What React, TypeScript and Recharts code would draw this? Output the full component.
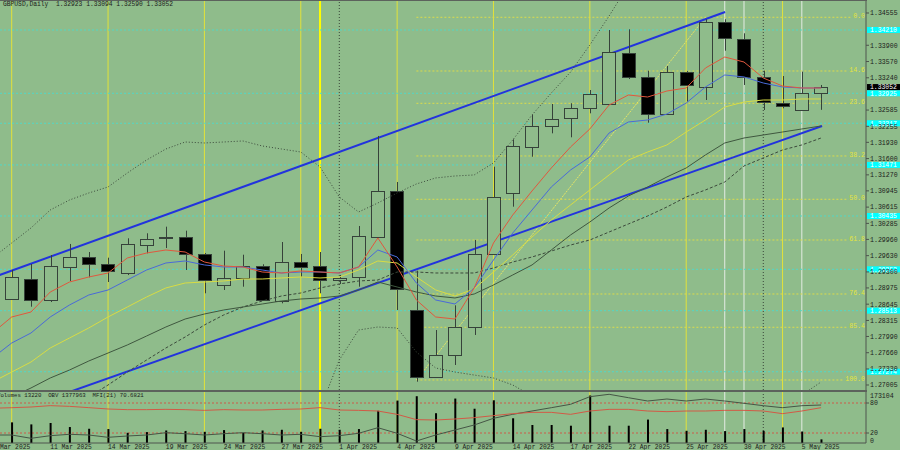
import React from 'react';
import { ComposedChart, Bar, Line, XAxis, YAxis, ReferenceLine } from 'recharts';

const MONO = '"Liberation Mono", "DejaVu Sans Mono", monospace';
const BG = '#8fbc8b';
const TEXT = '#1c1c1c';
const AXIS_C = '#4e544e';
const CANDLE_C = '#36423a';
const AXIS_W = 34;
const X_DOMAIN: [number, number] = [-0.607, 44.33];
const P_DOMAIN: [number, number] = [1.2690328, 1.3481885];

// ---------- data (index k -> bar i = k - 1) ----------
const dates = ['6 Mar 2025', '7 Mar 2025', '10 Mar 2025', '11 Mar 2025', '12 Mar 2025', '13 Mar 2025', '14 Mar 2025', '17 Mar 2025', '18 Mar 2025', '19 Mar 2025', '20 Mar 2025', '21 Mar 2025', '24 Mar 2025', '25 Mar 2025', '26 Mar 2025', '27 Mar 2025', '28 Mar 2025', '31 Mar 2025', '1 Apr 2025', '2 Apr 2025', '3 Apr 2025', '4 Apr 2025', '7 Apr 2025', '8 Apr 2025', '9 Apr 2025', '10 Apr 2025', '11 Apr 2025', '14 Apr 2025', '15 Apr 2025', '16 Apr 2025', '17 Apr 2025', '18 Apr 2025', '21 Apr 2025', '22 Apr 2025', '23 Apr 2025', '24 Apr 2025', '25 Apr 2025', '28 Apr 2025', '29 Apr 2025', '30 Apr 2025', '1 May 2025', '2 May 2025', '5 May 2025', '6 May 2025'];

const opens = [null, 1.28756, 1.29162, 1.28730, 1.29406, 1.29597, 1.29455, 1.29284, 1.29852, 1.29994, 1.30003, 1.29664, 1.29028, 1.29177, 1.29420, 1.28716, 1.29495, 1.29426, 1.29136, 1.29191, 1.30015, 1.30942, 1.28527, 1.27161, 1.27608, 1.28188, 1.29664, 1.30896, 1.31841, 1.32262, 1.32418, 1.32621, 1.32702, 1.33737, 1.33262, 1.32499, 1.33364, 1.33059, 1.34378, 1.34021, 1.33262, 1.32734, 1.32586, 1.32923];
const highs = [null, 1.29339, 1.29461, 1.29643, 1.29867, 1.29704, 1.29589, 1.29982, 1.30084, 1.30218, 1.30137, 1.29684, 1.29731, 1.29649, 1.29455, 1.29907, 1.29664, 1.29704, 1.29237, 1.30232, 1.32059, 1.31125, 1.29325, 1.28121, 1.28622, 1.29948, 1.31436, 1.31992, 1.32491, 1.32708, 1.32722, 1.32992, 1.34210, 1.34224, 1.33384, 1.33479, 1.33378, 1.34427, 1.34427, 1.34143, 1.33384, 1.33276, 1.33364, 1.33094];
const lows = [null, 1.28730, 1.28594, 1.28689, 1.29116, 1.29191, 1.29095, 1.29237, 1.29678, 1.29785, 1.29339, 1.28866, 1.28933, 1.29000, 1.28720, 1.28663, 1.29203, 1.28866, 1.29055, 1.29000, 1.29999, 1.28527, 1.27072, 1.27147, 1.27411, 1.28020, 1.29643, 1.30624, 1.31638, 1.32113, 1.32032, 1.32519, 1.32698, 1.33215, 1.32329, 1.32485, 1.32755, 1.32789, 1.33790, 1.33094, 1.32586, 1.32621, 1.32576, 1.32590];
const closes = [null, 1.29203, 1.28730, 1.29420, 1.29597, 1.29461, 1.29325, 1.29867, 1.29974, 1.30015, 1.29664, 1.29136, 1.29177, 1.29420, 1.28730, 1.29495, 1.29406, 1.29136, 1.29177, 1.30029, 1.30948, 1.28947, 1.27173, 1.27608, 1.28176, 1.29664, 1.30827, 1.31856, 1.32262, 1.32404, 1.32621, 1.32905, 1.33757, 1.33262, 1.32499, 1.33364, 1.33094, 1.34378, 1.34042, 1.33262, 1.32755, 1.32667, 1.32925, 1.33052];

const maRed = [1.28060, 1.28385, 1.28486, 1.28892, 1.29095, 1.29197, 1.29278, 1.29583, 1.29684, 1.29745, 1.29704, 1.29501, 1.29420, 1.29400, 1.29298, 1.29278, 1.29319, 1.29298, 1.29278, 1.29400, 1.29989, 1.29400, 1.28730, 1.28385, 1.28344, 1.28974, 1.29887, 1.30456, 1.30943, 1.31410, 1.31836, 1.32201, 1.32688, 1.32891, 1.32850, 1.32972, 1.33033, 1.33439, 1.33662, 1.33560, 1.33236, 1.33073, 1.33033, 1.33033];
const maBlue = [1.27553, 1.27857, 1.28060, 1.28385, 1.28629, 1.28832, 1.28933, 1.29136, 1.29339, 1.29481, 1.29522, 1.29441, 1.29400, 1.29400, 1.29339, 1.29278, 1.29298, 1.29298, 1.29278, 1.29400, 1.29745, 1.29603, 1.29075, 1.28730, 1.28649, 1.28974, 1.29542, 1.30090, 1.30557, 1.31024, 1.31369, 1.31633, 1.32120, 1.32343, 1.32384, 1.32505, 1.32728, 1.33053, 1.33297, 1.33257, 1.33134, 1.33053, 1.33033, 1.33033];
const maYellow = [1.27065, 1.27268, 1.27471, 1.27756, 1.27959, 1.28162, 1.28385, 1.28588, 1.28791, 1.28974, 1.29075, 1.29095, 1.29116, 1.29156, 1.29156, 1.29177, 1.29197, 1.29177, 1.29197, 1.29339, 1.29522, 1.29481, 1.29197, 1.28933, 1.28811, 1.28954, 1.29298, 1.29644, 1.30009, 1.30354, 1.30659, 1.30963, 1.31268, 1.31572, 1.31734, 1.31877, 1.32140, 1.32384, 1.32647, 1.32748, 1.32789, 1.32789, 1.32810, 1.32810];
const maGreen = [1.26598, 1.26761, 1.26944, 1.27147, 1.27309, 1.27492, 1.27654, 1.27817, 1.27999, 1.28182, 1.28344, 1.28446, 1.28527, 1.28588, 1.28649, 1.28710, 1.28750, 1.28771, 1.28811, 1.28933, 1.29095, 1.28994, 1.28892, 1.28811, 1.28771, 1.28852, 1.29035, 1.29238, 1.29441, 1.29745, 1.30050, 1.30313, 1.30598, 1.30841, 1.31024, 1.31227, 1.31410, 1.31674, 1.31917, 1.32018, 1.32079, 1.32140, 1.32201, 1.32262];
const bbMid = [1.25523, 1.25766, 1.26010, 1.26253, 1.26497, 1.26761, 1.27005, 1.27268, 1.27512, 1.27756, 1.27979, 1.28223, 1.28426, 1.28588, 1.28710, 1.28811, 1.28872, 1.28974, 1.29055, 1.29116, 1.29136, 1.29298, 1.29298, 1.29278, 1.29278, 1.29278, 1.29380, 1.29501, 1.29603, 1.29724, 1.29846, 1.29948, 1.30110, 1.30273, 1.30435, 1.30618, 1.30821, 1.30963, 1.31125, 1.31450, 1.31613, 1.31775, 1.31877, 1.32018];
const bbUp = [1.29583, 1.29887, 1.30192, 1.30557, 1.30760, 1.30902, 1.31024, 1.31308, 1.31572, 1.31795, 1.31937, 1.31917, 1.31937, 1.31958, 1.31856, 1.31795, 1.31734, 1.31430, 1.30821, 1.30516, 1.30699, 1.30902, 1.31085, 1.31207, 1.31247, 1.31268, 1.31511, 1.31978, 1.32485, 1.32931, 1.33357, 1.33906, 1.34494, 1.35123, null, null, null, null, null, null, null, null, null, null];
const bbLow = [null, null, null, null, null, null, null, null, null, null, null, null, null, null, null, null, 1.26010, 1.26517, 1.27512, 1.28121, 1.28182, 1.28162, 1.27674, 1.27350, 1.27268, 1.27207, 1.27147, 1.27005, 1.26781, 1.26578, 1.26335, 1.25990, 1.25685, 1.25584, 1.25685, 1.25888, 1.26091, 1.26294, 1.26456, 1.26598, 1.26700, 1.26741, 1.26802, 1.27066];

const volumes = [null, 75200, 67800, 73000, 58200, 51900, 50800, 37100, 39700, 45600, 43400, 40800, 47100, 37100, 45600, 48200, 40800, 51900, 48200, 50800, 117500, 154600, 170500, 108600, 162000, 124900, 155700, 90100, 65600, 65600, 63000, 173104, 63000, 63000, 85300, 50800, 44500, 48200, 43400, 50800, 44500, 56700, 41900, 13220];
const obv = [838000, 838000, 778600, 825400, 850600, 838000, 796600, 820000, 838000, 879400, 861400, 838000, 861400, 879400, 861400, 838000, 850600, 807400, 825400, 868600, 969400, 868600, 730000, 838000, 928000, 1018000, 1138600, 1210600, 1270000, 1329400, 1390600, 1527400, 1570600, 1509400, 1450000, 1486000, 1450000, 1486000, 1450000, 1408600, 1365400, 1329400, 1365400, 1377963];
const mfi = [69.5, 70.6, 72.0, 74.7, 73.3, 70.7, 68.0, 66.7, 66.7, 67.3, 66.7, 65.3, 66.7, 66.0, 66.0, 67.3, 68.0, 70.7, 66.0, 65.3, 64.0, 57.3, 46.7, 46.0, 48.0, 50.7, 54.7, 58.7, 61.3, 61.3, 57.3, 64.0, 67.3, 67.3, 64.0, 62.7, 64.0, 64.0, 65.3, 65.3, 64.0, 58.7, 64.0, 70.6821];

// visible price-axis labels (those hidden under the coloured tags are left out)
const priceTicks = [1.34555, 1.339, 1.3357, 1.3324, 1.32585, 1.32255, 1.3193, 1.316, 1.3127, 1.30945, 1.30615, 1.30285, 1.2996, 1.2963, 1.293, 1.28975, 1.28645, 1.28315, 1.2799, 1.2766, 1.2733, 1.27005];
const dateTickBars = [-1, 2, 5, 8, 11, 14, 17, 20, 23, 26, 29, 32, 35, 38, 41];

const weekLines = [0, 5, 10, 15, 20, 25, 30, 35, 40];
const monthEndLines = [16];
const monthStartLines = [17, 39];
const whiteLines = [37, 38, 41];

const hLevels = [1.3421, 1.32925, 1.32317, 1.31471, 1.30435, 1.29353, 1.28513, 1.27274];
const bidPrice = 1.33052;

const fibLabels = ['0.0', '14.6', '23.6', '38.2', '50.0', '61.8', '76.4', '85.4', '100.0'];
const fibPrices = [1.34468, 1.33378, 1.32722, 1.31653, 1.30774, 1.29948, 1.28852, 1.28176, 1.27106];
const fibStartBar = 21;
const fibDiagonal = [{ x: 21, y: 1.27106 }, { x: 36, y: 1.34468 }];

const trendUpper = [{ x: -1, y: 1.29183 }, { x: 37.02, y: 1.34575 }];
const trendLower = [{ x: 0, y: 1.26449 }, { x: 42.05, y: 1.32262 }];

const rows = dates.map((d, k) => ({
  i: k - 1,
  date: d,
  o: opens[k],
  h: highs[k],
  l: lows[k],
  c: closes[k],
  hl: highs[k] == null ? null : [lows[k], highs[k]],
  red: maRed[k],
  blue: maBlue[k],
  yellow: maYellow[k],
  green: maGreen[k],
  mid: bbMid[k],
  up: bbUp[k],
  low: bbLow[k],
  vol: volumes[k],
  obv: obv[k],
  mfi: mfi[k],
}));

// ---------- shapes ----------
const Candle = (props: any) => {
  const { x, y, width, height, payload } = props;
  if (!payload || payload.o == null || x == null) return null;
  const { o, h, l, c } = payload;
  const top = Math.min(y, y + height);
  const hh = Math.abs(height);
  const range = h - l || 1e-9;
  const py = (v: number) => top + ((h - v) / range) * hh;
  const cx = Math.round(x + width / 2) + 0.5;
  const bTop = Math.round(py(Math.max(o, c))) + 0.5;
  const bBot = Math.round(py(Math.min(o, c))) + 0.5;
  const bull = c >= o;
  const left = Math.round(x) + 0.5;
  const w = Math.round(width) - 1;
  return (
    <g>
      <line x1={cx} x2={cx} y1={top} y2={top + hh} stroke={CANDLE_C} strokeWidth={1} />
      <rect x={left} y={bTop} width={w} height={Math.max(bBot - bTop, 1)} fill={bull ? BG : '#000'} stroke={CANDLE_C} strokeWidth={1} />
    </g>
  );
};

const AxisTag = (props: any) => {
  const { viewBox, text, fill, color } = props;
  if (!viewBox) return null;
  const left = viewBox.x + viewBox.width + 1;
  return (
    <g>
      <rect x={left} y={viewBox.y - 3} width={AXIS_W} height={6} fill={fill} />
      <text x={left + 3} y={viewBox.y + 2.4} fontSize={6.4} fill={color} fontFamily={MONO}>{text}</text>
    </g>
  );
};

const FibTag = (props: any) => {
  const { viewBox, text } = props;
  if (!viewBox) return null;
  const right = viewBox.x + viewBox.width - 1;
  const y = viewBox.y;
  const w = text.length * 4 + 2;
  return (
    <g>
      <rect x={right - w} y={y - 2} width={w + 1} height={3} fill={BG} />
      <text x={right} y={y + 1} textAnchor="end" fontSize={6.6} fill="#e4e43c" fontFamily={MONO}>{text}</text>
    </g>
  );
};

const SideText = (props: any) => {
  const { viewBox, text, dy } = props;
  if (!viewBox) return null;
  const left = viewBox.x + viewBox.width + 4;
  return <text x={left} y={viewBox.y + 2.4 + (dy || 0)} fontSize={6.6} fill={TEXT} fontFamily={MONO}>{text}</text>;
};

const DateTick = (props: any) => {
  const { x, y, payload } = props;
  const k = payload.value + 1;
  return <text x={x} y={y + 6.3} fontSize={6.3} fill={TEXT} fontFamily={MONO}>{dates[k]}</text>;
};

const verticalRefs = (prefix: string) => [
  ...weekLines.map((i) => <ReferenceLine key={prefix + 'w' + i} x={i} stroke="#e2e23a" strokeWidth={1} ifOverflow="hidden" zIndex={-60} />),
  ...monthEndLines.map((i) => <ReferenceLine key={prefix + 'm' + i} x={i} stroke="#ffff00" strokeWidth={2} ifOverflow="hidden" zIndex={-60} />),
  ...monthStartLines.map((i) => <ReferenceLine key={prefix + 's' + i} x={i} stroke="#3a463a" strokeWidth={1} strokeDasharray="1 2" ifOverflow="hidden" zIndex={-60} />),
  ...whiteLines.map((i) => <ReferenceLine key={prefix + 'h' + i} x={i} stroke="#e4ece4" strokeWidth={1} ifOverflow="hidden" zIndex={-60} />),
];

function MainChart() {
  return (
    <ComposedChart width={900} height={390} data={rows} margin={{ top: 0, right: 0, bottom: 0, left: 0 }}>
      <XAxis dataKey="i" type="number" domain={X_DOMAIN} allowDataOverflow hide />
      <YAxis
        orientation="right"
        width={AXIS_W}
        domain={P_DOMAIN}
        allowDataOverflow
        ticks={priceTicks}
        interval={0}
        tickSize={3}
        tickMargin={1}
        tickFormatter={(v: number) => v.toFixed(5)}
        tick={{ fill: TEXT, fontSize: 6.6, fontFamily: MONO }}
        axisLine={{ stroke: AXIS_C }}
        tickLine={{ stroke: AXIS_C }}
      />
      {verticalRefs('m')}
      {hLevels.map((p) => (
        <ReferenceLine key={'c' + p} y={p} stroke="#52d8c6" strokeDasharray="2 2" strokeWidth={1} zIndex={-55}
          label={<AxisTag text={p.toFixed(5)} fill="#00ffff" color="#ffffff" />} />
      ))}
      {fibPrices.map((p, n) => (
        <ReferenceLine key={'f' + n} segment={[{ x: fibStartBar, y: p }, { x: X_DOMAIN[1], y: p }]} stroke="#dcdc4a" strokeDasharray="2 2" strokeWidth={1} ifOverflow="visible" zIndex={-55}
          label={<FibTag text={fibLabels[n]} />} />
      ))}
      <ReferenceLine segment={fibDiagonal} stroke="#e6e664" strokeDasharray="2 1" strokeWidth={1} ifOverflow="hidden" zIndex={-55} />
      <ReferenceLine segment={trendUpper} stroke="#2233dd" strokeWidth={2} ifOverflow="hidden" zIndex={-50} />
      <ReferenceLine segment={trendLower} stroke="#2233dd" strokeWidth={2} ifOverflow="hidden" zIndex={-50} />
      <Bar dataKey="hl" barSize={14} shape={Candle} isAnimationActive={false} />
      <Line dataKey="up" stroke="#3c4a3c" strokeWidth={1} strokeDasharray="1 2" dot={false} activeDot={false} isAnimationActive={false} />
      <Line dataKey="low" stroke="#3c4a3c" strokeWidth={1} strokeDasharray="1 2" dot={false} activeDot={false} isAnimationActive={false} />
      <Line dataKey="mid" stroke="#3c4a3c" strokeWidth={1} strokeDasharray="3 2" dot={false} activeDot={false} isAnimationActive={false} />
      <Line dataKey="green" stroke="#3f573f" strokeWidth={1} dot={false} activeDot={false} isAnimationActive={false} />
      <Line dataKey="yellow" stroke="#d8dc44" strokeWidth={1} dot={false} activeDot={false} isAnimationActive={false} />
      <Line dataKey="blue" stroke="#4a6ad8" strokeWidth={1} dot={false} activeDot={false} isAnimationActive={false} />
      <Line dataKey="red" stroke="#e0583e" strokeWidth={1} dot={false} activeDot={false} isAnimationActive={false} />
      <ReferenceLine y={bidPrice} strokeOpacity={0} label={<AxisTag text={bidPrice.toFixed(5)} fill="#000000" color="#ffffff" />} />
    </ComposedChart>
  );
}

function IndicatorChart() {
  return (
    <ComposedChart width={900} height={58} data={rows} margin={{ top: 0, right: 0, bottom: 0, left: 0 }}>
      <XAxis dataKey="i" type="number" domain={X_DOMAIN} allowDataOverflow ticks={dateTickBars} interval={0} height={7}
        tickSize={0} tickMargin={0} tick={<DateTick />} axisLine={{ stroke: AXIS_C }} tickLine={false} />
      <YAxis hide domain={[0, 185860]} allowDataOverflow />
      <YAxis yAxisId="m" orientation="right" width={AXIS_W} domain={[0, 102]} allowDataOverflow ticks={[80, 20]} interval={0}
        tickSize={3} tickMargin={1} tick={{ fill: TEXT, fontSize: 6.6, fontFamily: MONO }} axisLine={{ stroke: AXIS_C }} tickLine={{ stroke: AXIS_C }} />
      <YAxis yAxisId="o" hide domain={[694000, 1612000]} allowDataOverflow />
      {verticalRefs('i')}
      <ReferenceLine yAxisId="m" y={80} stroke="#cc5a48" strokeDasharray="2 2" zIndex={-55} />
      <ReferenceLine yAxisId="m" y={20} stroke="#cc5a48" strokeDasharray="2 2" zIndex={-55} />
      <Bar dataKey="vol" fill="#000" barSize={2} isAnimationActive={false} />
      <Line yAxisId="o" dataKey="obv" stroke="#465646" strokeWidth={1} dot={false} activeDot={false} isAnimationActive={false} />
      <Line yAxisId="m" dataKey="mfi" stroke="#d25a46" strokeWidth={1} dot={false} activeDot={false} isAnimationActive={false} />
      <ReferenceLine y={173104} strokeOpacity={0} label={<SideText text="173104" />} />
      <ReferenceLine y={0} strokeOpacity={0} label={<SideText text="0" dy={-2} />} />
    </ComposedChart>
  );
}

export default function App() {
  return (
    <div style={{ position: 'absolute', left: 0, top: 0, width: 900, height: 450, background: BG, overflow: 'hidden' }}>
      <div style={{ position: 'absolute', left: 0, top: 0 }}>
        <MainChart />
      </div>
      <div style={{ position: 'absolute', left: 0, top: 392 }}>
        <IndicatorChart />
      </div>
      <div style={{ position: 'absolute', left: 0, top: 0, width: 867, height: 1, background: '#5c625c' }} />
      <div style={{ position: 'absolute', left: 0, top: 390, width: 867, height: 2, background: '#5c625c' }} />
      <div style={{ position: 'absolute', left: 3, top: 0, fontFamily: MONO, fontSize: 6.3, lineHeight: '9px', color: TEXT, whiteSpace: 'pre' }}>
        GBPUSD,Daily  1.32923 1.33094 1.32590 1.33052
      </div>
      <div style={{ position: 'absolute', left: -3, top: 392, fontFamily: MONO, fontSize: 5.7, lineHeight: '8px', color: TEXT, whiteSpace: 'pre' }}>
        Volumes 13220  OBV 1377963  MFI(21) 70.6821
      </div>
    </div>
  );
}
